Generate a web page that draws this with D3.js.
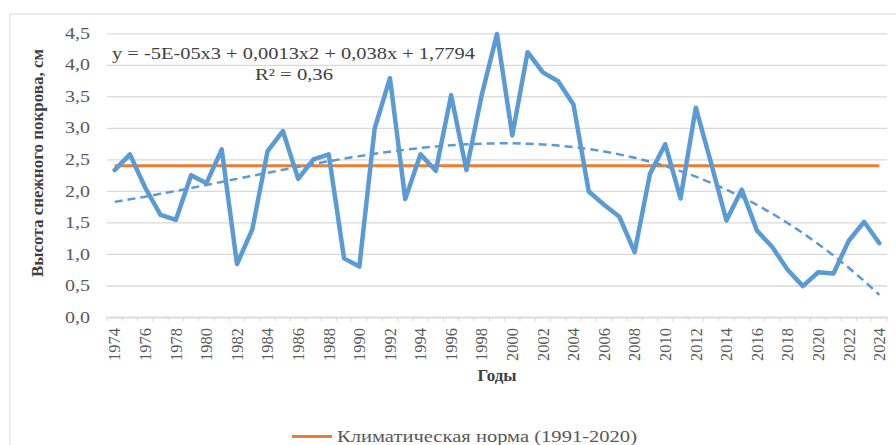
<!DOCTYPE html>
<html>
<head>
<meta charset="utf-8">
<script src="https://cdn.jsdelivr.net/npm/d3@7"></script>
<style>
  body { margin: 0; background: #fff; }
  svg, svg text { font-family: "Liberation Serif", "DejaVu Serif", serif; }
</style>
</head>
<body>
<div id="chart"></div>
<script>
const years = d3.range(1974, 2025);
const snow = [2.33, 2.58, 2.05, 1.62, 1.54, 2.25, 2.12, 2.66, 0.84, 1.39,
              2.63, 2.95, 2.19, 2.50, 2.58, 0.93, 0.80, 2.99, 3.79, 1.87,
              2.58, 2.32, 3.52, 2.33, 3.52, 4.49, 2.88, 4.20, 3.88, 3.74,
              3.37, 1.99, 1.78, 1.59, 1.03, 2.27, 2.74, 1.88, 3.32, 2.44,
              1.53, 2.02, 1.37, 1.11, 0.75, 0.49, 0.71, 0.69, 1.21, 1.51, 1.17];
const norm = 2.4;
const yTicks = [0, 0.5, 1, 1.5, 2, 2.5, 3, 3.5, 4, 4.5];
const labelYears = years.filter(d => (d - 1974) % 2 === 0);

const FONT = '"Liberation Serif", "DejaVu Serif", serif';
const width = 896, height = 445;
const plot = { left: 107, right: 887, top: 33.3, bottom: 317 };

const svg = d3.select("#chart").append("svg")
    .attr("width", width)
    .attr("height", height);

// outer chart border (runs off the right and bottom edges)
svg.append("rect")
    .attr("x", 10).attr("y", 14)
    .attr("width", 900).attr("height", 450)
    .attr("fill", "none")
    .attr("stroke", "#d9d9d9")
    .attr("stroke-width", 1);

const x = d3.scaleBand()
    .domain(years)
    .range([plot.left, plot.right]);
const cx = d => x(d) + x.bandwidth() / 2;

const y = d3.scaleLinear()
    .domain([0, 4.5])
    .range([plot.bottom, plot.top]);

// gridlines + y labels
const yAxis = svg.append("g")
    .attr("transform", `translate(${plot.left},0)`)
    .call(d3.axisLeft(y).tickValues(yTicks)
        .tickSize(-(plot.right - plot.left))
        .tickPadding(17)
        .tickFormat(d => d3.format(".1f")(d).replace(".", ",")));
yAxis.attr("font-family", FONT);
yAxis.select(".domain").remove();
yAxis.selectAll("line").attr("stroke", "#d9d9d9").attr("stroke-width", 1.3);
yAxis.selectAll("text")
    .attr("font-size", 16)
    .attr("fill", "#595959")
    .attr("textLength", 25)
    .attr("lengthAdjust", "spacingAndGlyphs");

// x axis, ticks at category edges
const xAxis = svg.append("g")
    .attr("transform", `translate(0,${plot.bottom})`)
    .call(d3.axisBottom(x).tickValues([]).tickSizeOuter(0));
xAxis.attr("font-family", FONT);
xAxis.select(".domain").attr("stroke", "#d9d9d9").attr("stroke-width", 1.3);
xAxis.selectAll(".edge")
    .data(years.concat([null]))
    .join("line")
    .attr("x1", (d, i) => plot.left + i * x.step())
    .attr("x2", (d, i) => plot.left + i * x.step())
    .attr("y1", 0).attr("y2", 4)
    .attr("stroke", "#d9d9d9");
xAxis.selectAll(".lab")
    .data(labelYears)
    .join("text")
    .attr("transform", d => `translate(${cx(d)},11) rotate(-90)`)
    .attr("text-anchor", "end")
    .attr("dy", "0.35em")
    .attr("font-size", 16.5)
    .attr("fill", "#595959")
    .text(d => d);

// axis titles
svg.append("text")
    .attr("transform", `translate(43,163) rotate(-90)`)
    .attr("text-anchor", "middle")
    .attr("font-size", 17)
    .attr("font-weight", "bold")
    .attr("fill", "#404040")
    .text("Высота снежного покрова, см");

svg.append("text")
    .attr("x", (plot.left + plot.right) / 2)
    .attr("y", 381)
    .attr("text-anchor", "middle")
    .attr("font-size", 17)
    .attr("font-weight", "bold")
    .attr("fill", "#404040")
    .text("Годы");

// norm line
const series = years.map((yr, i) => ({ yr, v: snow[i] }));
const line = d3.line().x(d => cx(d.yr)).y(d => y(d.v));

svg.append("path")
    .datum(years.map(yr => ({ yr, v: norm })))
    .attr("d", line)
    .attr("fill", "none")
    .attr("stroke", "#ed7d31")
    .attr("stroke-width", 3);

// observed snow depth
svg.append("path")
    .datum(series)
    .attr("d", line)
    .attr("fill", "none")
    .attr("stroke", "#5b9bd5")
    .attr("stroke-width", 4.5)
    .attr("stroke-linejoin", "round")
    .attr("stroke-linecap", "round");

// cubic least-squares trend (x = 1..n), like the spreadsheet trendline
function cubicFit(vals) {
  const n = 4;
  const A = d3.range(n).map(() => new Array(n + 1).fill(0));
  vals.forEach((v, i) => {
    const t = i + 1;
    const p = d3.range(n).map(k => Math.pow(t, k));
    for (let r = 0; r < n; r++) {
      for (let c = 0; c < n; c++) A[r][c] += p[r] * p[c];
      A[r][n] += p[r] * v;
    }
  });
  for (let i = 0; i < n; i++) {
    let m = i;
    for (let r = i + 1; r < n; r++) if (Math.abs(A[r][i]) > Math.abs(A[m][i])) m = r;
    [A[i], A[m]] = [A[m], A[i]];
    for (let r = 0; r < n; r++) {
      if (r === i) continue;
      const f = A[r][i] / A[i][i];
      for (let c = i; c <= n; c++) A[r][c] -= f * A[i][c];
    }
  }
  return d3.range(n).map(i => A[i][n] / A[i][i]);
}
const coef = cubicFit(snow);
const trend = years.map((yr, i) => {
  const t = i + 1;
  return { yr, v: coef[0] + coef[1] * t + coef[2] * t * t + coef[3] * t * t * t };
});

svg.append("path")
    .datum(trend)
    .attr("d", line)
    .attr("fill", "none")
    .attr("stroke", "#5b9bd5")
    .attr("stroke-width", 2.5)
    .attr("stroke-dasharray", "8,5");

// trend equation
svg.append("text")
    .attr("x", 112).attr("y", 58.5)
    .attr("font-size", 16)
    .attr("fill", "#404040")
    .attr("textLength", 363)
    .attr("lengthAdjust", "spacingAndGlyphs")
    .text("y = -5E-05x3 + 0,0013x2 + 0,038x + 1,7794");
svg.append("text")
    .attr("x", 255).attr("y", 80)
    .attr("font-size", 16)
    .attr("fill", "#404040")
    .attr("textLength", 78)
    .attr("lengthAdjust", "spacingAndGlyphs")
    .text("R² = 0,36");

// legend
svg.append("line")
    .attr("x1", 292).attr("x2", 332)
    .attr("y1", 436.5).attr("y2", 436.5)
    .attr("stroke", "#ed7d31")
    .attr("stroke-width", 3);
svg.append("text")
    .attr("x", 337).attr("y", 441.5)
    .attr("font-size", 17)
    .attr("fill", "#595959")
    .attr("textLength", 300)
    .attr("lengthAdjust", "spacingAndGlyphs")
    .text("Климатическая норма (1991-2020)");
</script>
</body>
</html>
